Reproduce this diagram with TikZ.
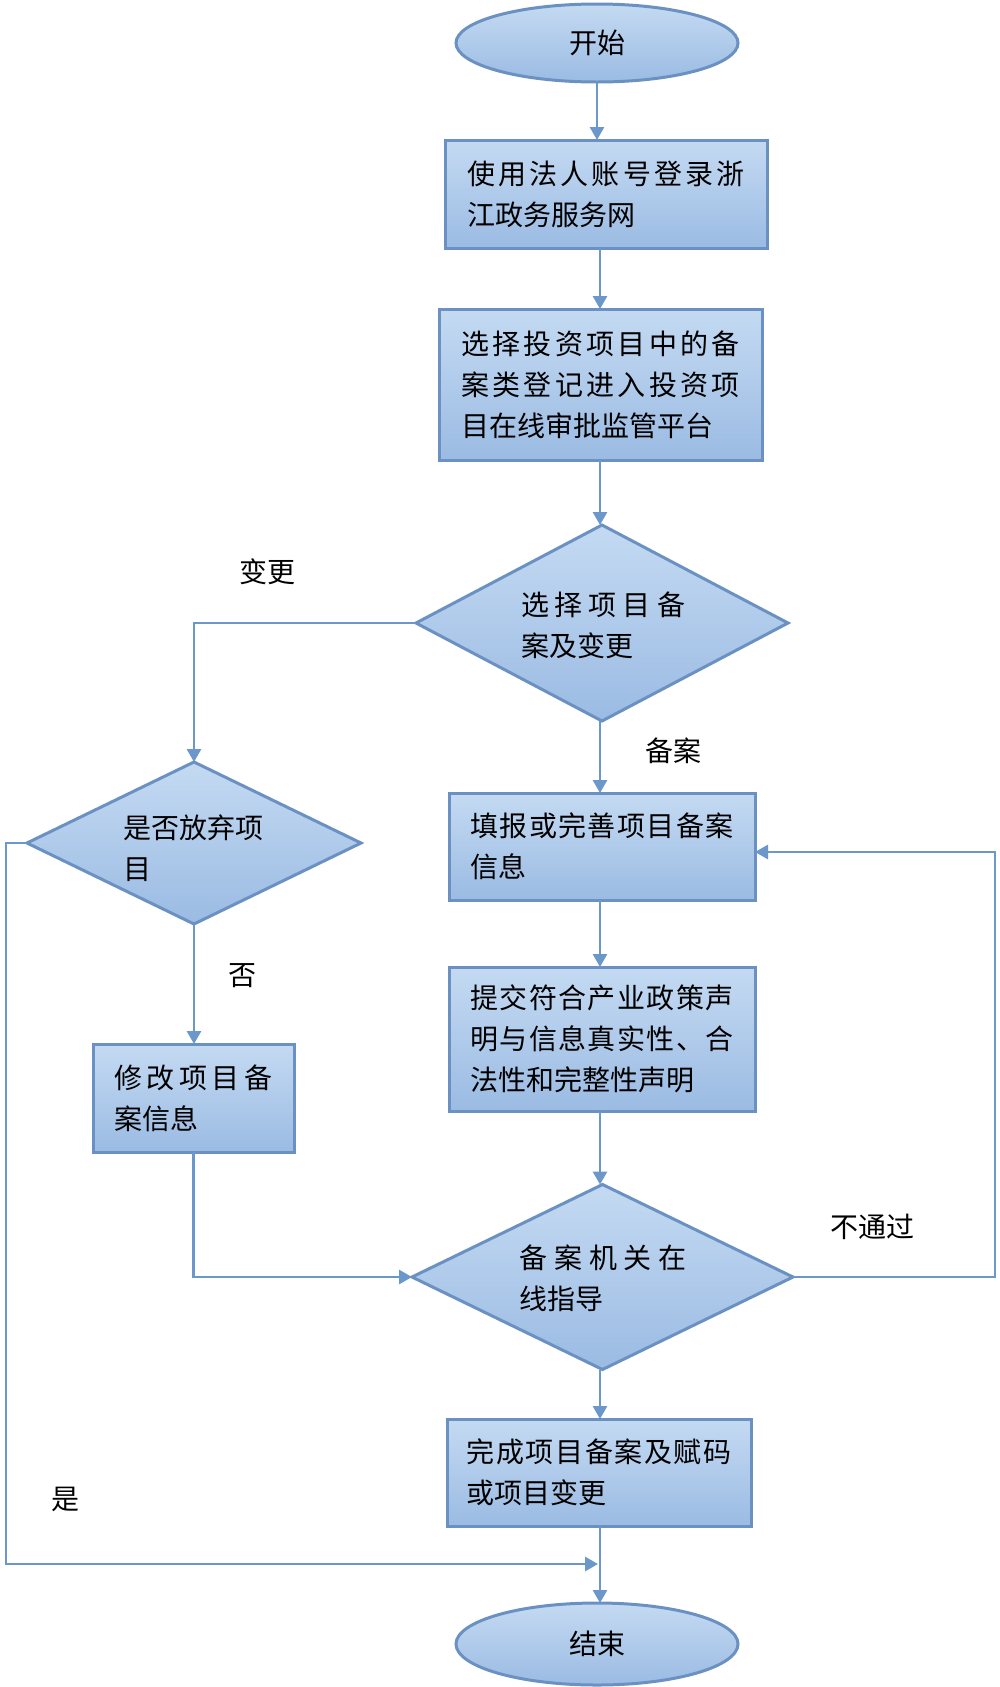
\documentclass[tikz,border=0pt]{standalone}
\usepackage{fontspec}
\newfontfamily\cjk{Noto Sans CJK SC}
\usetikzlibrary{shapes.geometric,arrows.meta}
\definecolor{fillT}{HTML}{C4DAF2}
\definecolor{fillB}{HTML}{9BBBE3}
\definecolor{edge}{HTML}{6B91C2}
\definecolor{wire}{HTML}{6C97CB}
\ExplSyntaxOn
\NewDocumentCommand\spreadto{mm}{\makebox[#1][s]{\tl_map_inline:nn{#2}{##1\hfil}\unskip}}
\ExplSyntaxOff
\begin{document}
\begin{tikzpicture}[x=1pt,y=-1pt,
  font=\cjk\fontsize{28pt}{41pt}\selectfont,
  shp/.style={draw=edge, line width=3pt, top color=fillT, bottom color=fillB, inner sep=0pt, outer sep=0pt},
  box/.style={shp, rectangle, align=left},
  term/.style={shp, ellipse},
  dec/.style={shp, diamond},
  txt/.style={align=left, inner sep=0pt},
  lbl/.style={inner sep=0pt},
  arr/.style={draw=wire, line width=2.8pt, -{Triangle[width=14pt,length=13pt]}}]
\fill[white] (0,0) rectangle (1000,1687);
\useasboundingbox (0,0) rectangle (1000,1687);

% main column
\node[term, minimum width=282pt, minimum height=78pt] (st) at (597,43) {开始};
\node[box, minimum width=322pt, minimum height=108pt, text width=278pt] (b1) at (606,194)
  {\spreadto{278pt}{使用法人账号登录浙}\\江政务服务网};
\node[box, minimum width=323pt, minimum height=151pt, text width=279pt] (b2) at (600.5,384.5)
  {\spreadto{279pt}{选择投资项目中的备}\\\spreadto{279pt}{案类登记进入投资项}\\目在线审批监管平台};
\node[dec, minimum width=372pt, minimum height=196pt] (d1) at (602,623) {};
\node[txt, text width=164pt] (d1t) at (603,625) {\spreadto{164pt}{选择项目备}\\案及变更};
\node[box, minimum width=306pt, minimum height=107pt, text width=264pt] (b3) at (602,846.5)
  {\spreadto{264pt}{填报或完善项目备案}\\信息};
\node[box, minimum width=306pt, minimum height=144pt, text width=264pt] (b4) at (602,1039)
  {\spreadto{264pt}{提交符合产业政策声}\\\spreadto{264pt}{明与信息真实性、合}\\法性和完整性声明};
\node[dec, minimum width=381pt, minimum height=185pt] (d2) at (602.5,1277) {};
\node[txt, text width=167pt] (d2t) at (603,1278) {\spreadto{167pt}{备案机关在}\\线指导};
\node[box, minimum width=304pt, minimum height=107pt, text width=265pt] (b5) at (599,1472.5)
  {\spreadto{265pt}{完成项目备案及赋码}\\或项目变更};
\node[term, minimum width=282pt, minimum height=82pt] (en) at (597,1644) {结束};

% left column
\node[dec, minimum width=334pt, minimum height=162pt] (ld) at (194,843) {};
\node[txt, text width=144pt] (ldt) at (195,848) {是否放弃项\\目};
\node[box, minimum width=201pt, minimum height=108pt, text width=158pt] (b6) at (193.5,1098)
  {\spreadto{158pt}{修改项目备}\\案信息};

% labels
\node[lbl] (l1) at (267,572) {变更};
\node[lbl] (l2) at (673,751) {备案};
\node[lbl] (l3) at (242,976) {否};
\node[lbl] (l4) at (65,1499) {是};
\node[lbl] (l5) at (872,1227) {不通过};

% connectors
\coordinate (col) at (600,0);
\draw[arr] (st.south) -- (st.south |- b1.north);
\draw[arr] (b1.south -| col) -- (b2.north -| col);
\draw[arr] (b2.south -| col) -- (d1.north -| col);
\draw[arr] (d1.south -| col) -- (b3.north -| col);
\draw[arr] (b3.south -| col) -- (b4.north -| col);
\draw[arr] (b4.south -| col) -- (d2.north -| col);
\draw[arr] (d2.south -| col) -- (b5.north -| col);
\draw[arr] (b5.south -| col) -- (en.north -| col);

\draw[arr] (d1.west) -| (ld.north);
\draw[arr] (ld.south) -- (ld.south |- b6.north);
\draw[arr] (b6.south) |- (d2.west);

\coordinate (yx) at (6,0);
\coordinate (yesend) at (598,1564);
\draw[arr] (ld.west) -| (yx |- yesend) -- (yesend);

\coordinate (rx) at (995,852);
\draw[arr] (d2.east) -| (rx) -- (rx -| b3.east);
\end{tikzpicture}
\end{document}
